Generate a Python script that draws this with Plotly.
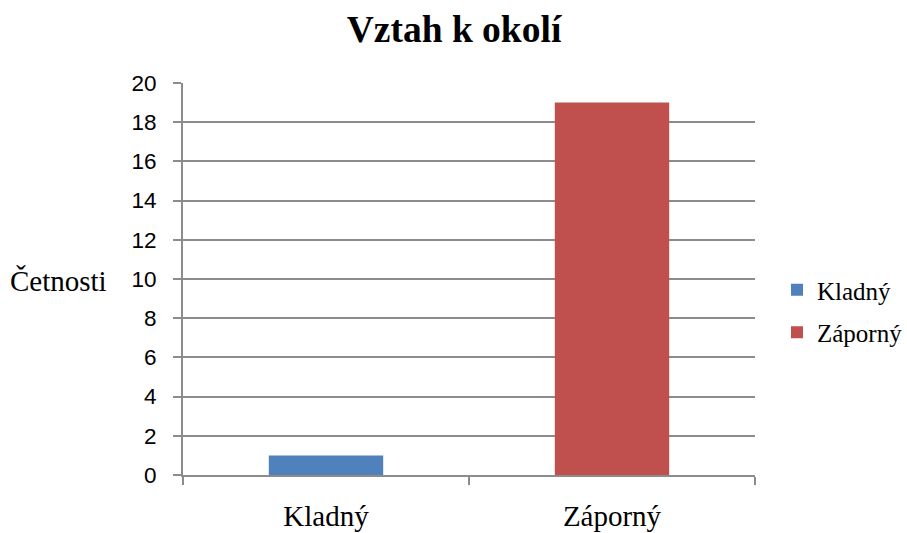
import plotly.graph_objects as go

categories = ["Kladný", "Záporný"]
values = [1, 19]
colors = ["#4F81BD", "#C0504D"]
y_ticks = list(range(0, 21, 2))

W, H = 907, 533
L, R, T, B = 183, 152, 83, 58

fig = go.Figure()
for cat, val, col in zip(categories, values, colors):
    fig.add_trace(go.Bar(x=[cat], y=[val], name=cat, marker_color=col,
                         width=0.4, marker_line_width=0, legendgroup=cat))

grid = "#8C8C8C"
fig.update_layout(
    width=W, height=H,
    margin=dict(l=L, r=R, t=T, b=B, autoexpand=False),
    paper_bgcolor="white", plot_bgcolor="white",
    barmode="overlay",
    title=dict(text="<b>Vztah k okolí</b>", x=454 / W, xanchor="center",
               y=1 - 29 / H, yanchor="middle",
               font=dict(family="Liberation Serif", size=37.5, color="black")),
    legend=dict(x=(777 - L) / (W - L - R), xanchor="left",
                y=(475 - 311) / (H - T - B), yanchor="middle",
                font=dict(family="Liberation Serif", size=25, color="black"),
                tracegroupgap=7, itemwidth=30),
    showlegend=True,
)
fig.update_xaxes(
    categoryorder="array", categoryarray=categories,
    showline=True, linecolor=grid, linewidth=2,
    ticks="outside", tickson="boundaries", ticklen=8, tickcolor=grid, tickwidth=2,
    showgrid=False,
    tickfont=dict(family="Liberation Serif", size=29, color="black"),
    ticklabelstandoff=14,
)
fig.update_yaxes(
    range=[0, 20], tickvals=y_ticks,
    showline=True, linecolor=grid, linewidth=2,
    ticks="outside", ticklen=8, tickcolor=grid, tickwidth=2,
    showgrid=True, gridcolor=grid, gridwidth=2, zeroline=False,
    tickfont=dict(family="Liberation Sans", size=22.5, color="black"),
    ticklabelstandoff=12,
)
fig.add_annotation(text="Četnosti", xref="paper", yref="paper",
                   x=(58 - L) / (W - L - R), y=(475 - 281) / (H - T - B),
                   xanchor="center", yanchor="middle", showarrow=False,
                   font=dict(family="Liberation Serif", size=29, color="black"))

fig.write_html("out.html", config={"displayModeBar": False},
               post_script="document.body.style.margin='0';document.body.style.overflow='hidden';")
